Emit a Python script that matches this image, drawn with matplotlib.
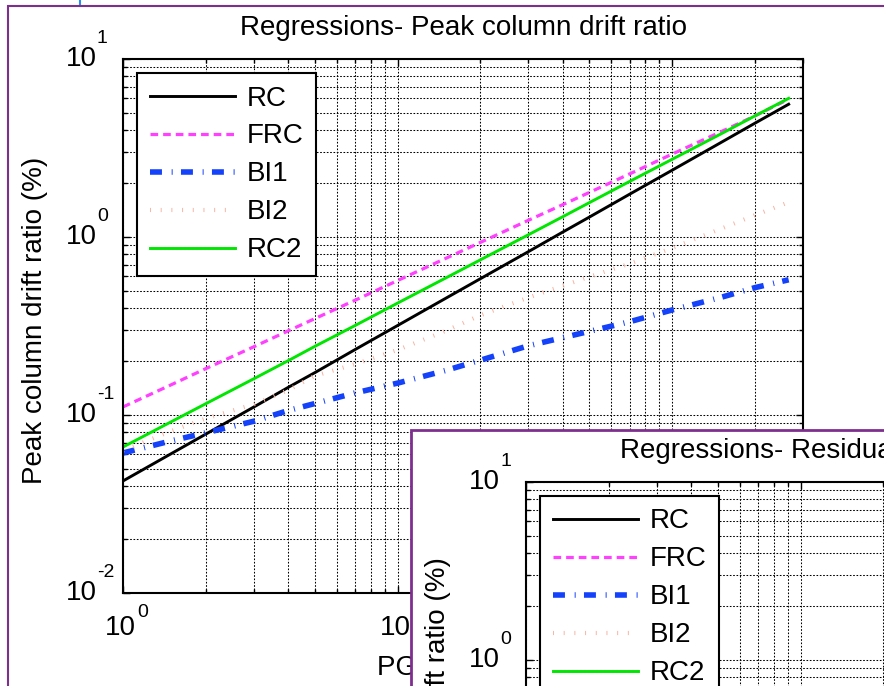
import numpy as np
import matplotlib.pyplot as plt
from matplotlib.patches import Rectangle
from matplotlib.lines import Line2D
from matplotlib.ticker import LogLocator, NullFormatter
from matplotlib.transforms import blended_transform_factory, offset_copy

plt.rcParams['font.family'] = ['Liberation Sans', 'DejaVu Sans']
plt.rcParams['lines.scale_dashes'] = False

# regression curves, drift ratio (%) vs PGV
pgv = [1, 1.5, 2, 3, 4, 5, 7, 10, 15, 20, 30, 40, 50, 70, 100, 150, 200, 266]
rc = [0.0426, 0.0607, 0.078, 0.111, 0.143, 0.173, 0.233, 0.318, 0.453, 0.582,
      0.828, 1.066, 1.294, 1.738, 2.37, 3.38, 4.35, 5.57]
frc = [0.111, 0.148, 0.182, 0.242, 0.297, 0.348, 0.441, 0.569, 0.759, 0.931,
       1.242, 1.52, 1.78, 2.26, 2.92, 3.89, 4.78, 5.95]
bi1 = [0.0612, 0.0716, 0.0794, 0.0923, 0.106, 0.116, 0.133, 0.151, 0.178, 0.203,
       0.245, 0.272, 0.295, 0.334, 0.389, 0.457, 0.519, 0.575]
bi2 = [0.0631, 0.0813, 0.0955, 0.115, 0.138, 0.166, 0.193, 0.232, 0.297, 0.363,
       0.457, 0.532, 0.598, 0.708, 0.867, 1.109, 1.324, 1.567]
rc2 = [0.0661, 0.0917, 0.1156, 0.160, 0.202, 0.243, 0.318, 0.425, 0.589, 0.743,
       1.03, 1.30, 1.56, 2.05, 2.73, 3.78, 4.78, 6.01]

names = ['RC', 'FRC', 'BI1', 'BI2', 'RC2']
styles = {
    'RC':  dict(color='k', lw=2.1, ls='-'),
    'FRC': dict(color='#FF40FF', lw=2.3, ls=(0, (5.5, 3.6))),
    'BI1': dict(color='#1441FA', lw=4.0, ls=(0, (8.6, 7.0, 0.7, 6.0))),
    'BI2': dict(color='#F5B5A5', lw=3.0, ls=(0, (0.7, 7.0))),
    'RC2': dict(color='#00E600', lw=2.1, ls='-'),
}

W, H = 884, 686
AX_W, AX_H = 680, 534
fig = plt.figure(figsize=(W / 100, H / 100), dpi=100)
fig.patch.set_facecolor('white')


def setup_axes(ax, title, ylabel, xlabel):
    ax.set_xscale('log')
    ax.set_yscale('log')
    ax.set_xlim(1, 300)
    ax.set_ylim(1e-2, 1e1)
    for axis in (ax.xaxis, ax.yaxis):
        axis.set_major_locator(LogLocator(10, numticks=10))
        axis.set_minor_locator(LogLocator(10, subs=np.arange(2, 10), numticks=20))
        axis.set_major_formatter(NullFormatter())
        axis.set_minor_formatter(NullFormatter())
    ax.grid(True, which='both', color='k', lw=0.75, ls=(0, (1.2, 1.2)))
    ax.tick_params(which='both', direction='in', top=True, right=True, width=1)
    ax.tick_params(which='major', length=5)
    ax.tick_params(which='minor', length=3)
    for s in ax.spines.values():
        s.set_linewidth(1.5)
    ax.set_title(title, fontsize=20, pad=17.3)
    ax.text(-81 / AX_W, 0.5 + 6 / AX_H, ylabel, rotation=90, rotation_mode='anchor',
            ha='center', va='baseline', fontsize=20, transform=ax.transAxes)
    ax.text(0.5, -82 / AX_H, xlabel, ha='center', va='baseline', fontsize=20,
            transform=ax.transAxes)

    # MATLAB style 10^n labels
    ty = blended_transform_factory(ax.transAxes, ax.transData)
    for e in range(-2, 2):
        ax.text(0, 10.0 ** e, '10', fontsize=20, ha='right', va='baseline',
                transform=offset_copy(ty, fig=fig, x=-26, y=-7, units='dots'))
        ax.text(0, 10.0 ** e, str(e), fontsize=14, ha='left', va='baseline',
                transform=offset_copy(ty, fig=fig, x=-26, y=16, units='dots'))
    tx = blended_transform_factory(ax.transData, ax.transAxes)
    for e in range(0, 3):
        ax.text(10.0 ** e, 0, '10', fontsize=20, ha='left', va='baseline',
                transform=offset_copy(tx, fig=fig, x=-18, y=-42, units='dots'))
        ax.text(10.0 ** e, 0, str(e), fontsize=14, ha='left', va='baseline',
                transform=offset_copy(tx, fig=fig, x=14, y=-24, units='dots'))


def add_legend(ax):
    leg = ax.legend(loc='upper left', bbox_to_anchor=(14 / AX_W, (534 - 14) / AX_H),
                    borderaxespad=0, fontsize=20, handlelength=3.06,
                    handletextpad=0.45, labelspacing=0.43, borderpad=0.45,
                    fancybox=False, framealpha=1, edgecolor='k')
    leg.get_frame().set_linewidth(1.5)
    for h in leg.get_lines():
        h.set_dash_capstyle('butt')


# main figure: peak drift
ax = fig.add_axes([123 / W, 1 - (59 + AX_H) / H, AX_W / W, AX_H / H])
series = {'RC': rc, 'FRC': frc, 'BI1': bi1, 'BI2': bi2, 'RC2': rc2}
for n in names:
    ax.plot(pgv, series[n], label=n, dash_capstyle='butt', **styles[n])
setup_axes(ax, 'Regressions- Peak column drift ratio',
           'Peak column drift ratio (%)', 'PGV (cm/sec)')
add_legend(ax)

# window frames
fig.add_artist(Line2D([80 / W, 80 / W], [1, 1 - 6 / H], color='#2B8CF0', lw=1.5,
                      transform=fig.transFigure, zorder=0.5))
fig.add_artist(Rectangle((8 / W, -1), 2, 2 - 6 / H, fill=False,
                         edgecolor='#7E2F8E', lw=1.5, transform=fig.transFigure,
                         zorder=1))
fig.add_artist(Rectangle((411 / W, -1), 2, 2 - 430 / H, facecolor='white',
                         edgecolor='#7E2F8E', lw=2.0, transform=fig.transFigure,
                         zorder=2))

# second figure on top: residual drift
ax2 = fig.add_axes([526 / W, 1 - (482 + AX_H) / H, AX_W / W, AX_H / H])
ax2.set_zorder(3)
for n in names:
    ax2.plot([], [], label=n, dash_capstyle='butt', **styles[n])
setup_axes(ax2, 'Regressions- Residual column drift ratio',
           'Residual column drift ratio (%)', 'PGV (cm/sec)')
add_legend(ax2)

fig.savefig('out.png', dpi=100)
